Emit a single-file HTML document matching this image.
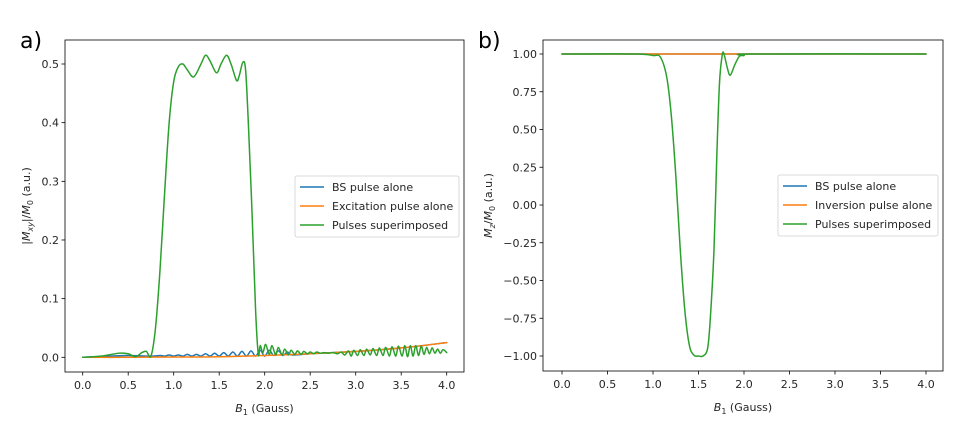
<!DOCTYPE html>
<html><head><meta charset="utf-8"><style>
html,body{margin:0;padding:0;background:#fff;}
svg{display:block;font-family:"DejaVu Sans","Liberation Sans",sans-serif;}
</style></head><body>
<svg id="c" width="960" height="432" viewBox="0 0 960 432"></svg>
<script>
// ---- Panel a data ----
const aGreenX=[0,0.2,0.4,0.5,0.58,0.65,0.7,0.75,0.8,0.85,0.9,0.95,1.0,1.05,1.1,1.15,1.22,1.3,1.35,1.4,1.47,1.52,1.58,1.63,1.69,1.72,1.76,1.79,1.82,1.86,1.9,1.93,
1.95,1.98,2.01,2.05,2.08,2.12,2.15,2.19,2.22,2.26,2.29,2.33,2.36,2.4,2.43,2.47,2.5,2.54,2.57,2.61,2.65,2.7,2.75,2.8,2.84,2.88,2.92,2.95,2.98,3.02,3.05,3.09,3.12,3.16,3.19,3.23,3.26,3.3,3.33,3.37,3.4,3.44,3.47,3.51,3.54,3.57,3.6,3.63,3.66,3.69,3.72,3.75,3.78,3.81,3.84,3.87,3.9,3.93,3.96,4.0];
const aGreenY=[0,0.002,0.007,0.006,0.001,0.008,0.01,0.002,0.05,0.15,0.28,0.4,0.47,0.495,0.5,0.49,0.478,0.5,0.515,0.505,0.485,0.5,0.515,0.5,0.472,0.48,0.503,0.49,0.4,0.25,0.08,0.005,
0.02,0.008,0.022,0.005,0.02,0.004,0.017,0.004,0.014,0.004,0.012,0.005,0.011,0.005,0.01,0.006,0.009,0.006,0.009,0.007,0.008,0.007,0.008,0.006,0.009,0.004,0.011,0.002,0.012,0.003,0.013,0.003,0.014,0.004,0.015,0.003,0.016,0.003,0.017,0.002,0.018,0.002,0.019,0.002,0.02,0.001,0.02,0.002,0.02,0.003,0.019,0.005,0.017,0.006,0.016,0.007,0.014,0.007,0.013,0.008];
const aBlueX=[0,0.3,0.5,0.75,0.85,0.9,0.95,1.0,1.05,1.1,1.15,1.2,1.25,1.3,1.35,1.4,1.45,1.5,1.55,1.6,1.65,1.7,1.75,1.8,1.85,1.9,1.95,2.0,2.05,2.1,2.15,2.2,2.25,2.3,2.5,3.0,3.5,4.0];
const aBlueY=[0,0.002,0.003,0.002,0.003,0.002,0.004,0.002,0.004,0.002,0.005,0.002,0.005,0.002,0.006,0.002,0.007,0.002,0.008,0.002,0.009,0.002,0.01,0.002,0.011,0.002,0.012,0.002,0.012,0.003,0.011,0.003,0.009,0.004,0.006,0.01,0.016,0.025];
const aOrangeX=[0,0.5,1.0,1.5,2.0,2.5,3.0,3.5,4.0];
const aOrangeY=[0,0,0.0005,0.001,0.003,0.006,0.01,0.016,0.025];
// ---- Panel b data ----
const bGreenX=[0,0.8,1.0,1.08,1.15,1.2,1.25,1.3,1.35,1.4,1.45,1.5,1.55,1.6,1.63,1.67,1.7,1.73,1.76,1.78,1.82,1.85,1.9,1.95,2.0,2.1,4.0];
const bGreenY=[1,1,0.99,0.98,0.85,0.6,0.2,-0.3,-0.7,-0.93,-0.995,-1.0,-1.0,-0.95,-0.75,-0.3,0.3,0.8,0.99,1.0,0.9,0.86,0.93,0.985,0.99,1.0,1.0];
const bBlueX=[0,1.0,1.5,2.0,4.0];
const bBlueY=[1,1,1,1,1];
const bOrangeX=[0,1.0,2.0,3.0,4.0];
const bOrangeY=[1,1,1,1,1];
const xTicks=[0,0.5,1.0,1.5,2.0,2.5,3.0,3.5,4.0];
const aYTicks=[0,0.1,0.2,0.3,0.4,0.5];
const bYTicks=[-1,-0.75,-0.5,-0.25,0,0.25,0.5,0.75,1.0];

const NS="http://www.w3.org/2000/svg";
const svg=document.getElementById('c');
function mk(t,a,p){const e=document.createElementNS(NS,t);for(const k in a)e.setAttribute(k,a[k]);(p||svg).appendChild(e);return e;}
function smooth(P){
  let d='M'+P[0][0].toFixed(2)+','+P[0][1].toFixed(2);
  for(let i=0;i<P.length-1;i++){
    const p0=P[Math.max(0,i-1)],p1=P[i],p2=P[i+1],p3=P[Math.min(P.length-1,i+2)];
    const t=1/6;
    const c1=[p1[0]+(p2[0]-p0[0])*t,p1[1]+(p2[1]-p0[1])*t];
    const c2=[p2[0]-(p3[0]-p1[0])*t,p2[1]-(p3[1]-p1[1])*t];
    d+=' C'+c1.map(v=>v.toFixed(2)).join(',')+' '+c2.map(v=>v.toFixed(2)).join(',')+' '+p2.map(v=>v.toFixed(2)).join(',');
  }
  return d;
}

function panel(o){
  const g=mk('g',{});
  
  
  const sx=v=>o.x0+(v-0)*(o.x4-o.x0)/4;
  const sy=v=>o.yA+(v-o.vA)*(o.yB-o.yA)/(o.vB-o.vA);
  o.series.forEach(s=>{
    const P=s.x.map((v,i)=>[sx(v),sy(s.y[i])]);
    const pl=mk('path',{d:smooth(P),fill:'none',stroke:s.c,'stroke-width':1.5,'stroke-linejoin':'round','stroke-linecap':'round'},g);
    
    
  });
  const fr=mk('rect',{x:o.L,y:o.T,width:o.R-o.L,height:o.B-o.T,fill:'none',stroke:'#000','stroke-width':0.8},g);
  
  
  xTicks.forEach(v=>{
    const x=sx(v);
    mk('line',{x1:x,x2:x,y1:o.B,y2:o.B+3.5,stroke:'#000','stroke-width':0.8},g);
    const t=mk('text',{x:x,y:o.B+17,'font-size':11,'text-anchor':'middle',fill:'#262626'},g);
    t.textContent=v.toFixed(1);
    
    
  });
  o.yt.forEach(v=>{
    const y=sy(v);
    mk('line',{x1:o.L-3.5,x2:o.L,y1:y,y2:y,stroke:'#000','stroke-width':0.8},g);
    const t=mk('text',{x:o.L-6,y:y+4,'font-size':11,'text-anchor':'end',fill:'#262626'},g);
    t.textContent=(v<0?'\u2212':'')+Math.abs(v).toFixed(o.dec);
    
    
  });
  const xl=mk('text',{x:(o.L+o.R)/2,y:o.B+40,'font-size':11,'text-anchor':'middle',fill:'#262626'},g);
  xl.innerHTML='<tspan font-style="italic">B</tspan><tspan font-size="8" dy="3">1</tspan><tspan dy="-3"> (Gauss)</tspan>';
  
  
  const yl=mk('text',{transform:`translate(${o.ylx},${(o.T+o.B)/2}) rotate(-90)`,'font-size':11,'text-anchor':'middle',fill:'#262626'},g);
  yl.innerHTML=o.ylab;
  
  
  const pl=mk('text',{x:o.plx,y:48,'font-size':22,fill:'#000'},g);
  pl.textContent=o.plabel;
  
  
  const lg=mk('g',{},g);
  
  
  mk('rect',{x:o.lx,y:o.ly,width:o.lw,height:61,rx:2,fill:'#fff','fill-opacity':0.85,stroke:'#d0d0d0','stroke-width':0.8},lg);
  o.series.slice().sort((a,b)=>a.ord-b.ord).forEach((s,i)=>{
    const y=o.ly+11+i*19;
    const e=mk('g',{},lg);
    
    
    mk('line',{x1:o.lx+5,x2:o.lx+29,y1:y,y2:y,stroke:s.c,'stroke-width':1.5},e);
    const t=mk('text',{x:o.lx+37,y:y+4,'font-size':11,fill:'#262626'},e);
    t.textContent=s.label;
  });
}
panel({name:'panel-a',L:65,R:464,T:40,B:372,x0:82.7,x4:446.7,vA:0,yA:357.3,vB:0.5,yB:64,yt:aYTicks,dec:1,
  ylx:30,ylab:'|<tspan font-style="italic">M</tspan><tspan font-size="8" dy="3" font-style="italic">xy</tspan><tspan dy="-3">|/</tspan><tspan font-style="italic">M</tspan><tspan font-size="8" dy="3">0</tspan><tspan dy="-3"> (a.u.)</tspan>',
  plx:20,plabel:'a)',lx:295,ly:176,lw:164,
  series:[{n:'series-bs-pulse',c:'#1f77b4',x:aBlueX,y:aBlueY,label:'BS pulse alone',ord:0},
          {n:'series-excitation-pulse',c:'#ff7f0e',x:aOrangeX,y:aOrangeY,label:'Excitation pulse alone',ord:1},
          {n:'series-superimposed',c:'#2ca02c',x:aGreenX,y:aGreenY,label:'Pulses superimposed',ord:2}]});
panel({name:'panel-b',L:543,R:943,T:40,B:371,x0:562,x4:926,vA:1,yA:54,vB:-1,yB:356,yt:bYTicks,dec:2,
  ylx:492,ylab:'<tspan font-style="italic">M</tspan><tspan font-size="8" dy="3" font-style="italic">z</tspan><tspan dy="-3">/</tspan><tspan font-style="italic">M</tspan><tspan font-size="8" dy="3">0</tspan><tspan dy="-3">  (a.u.)</tspan>',
  plx:478,plabel:'b)',lx:778,ly:175,lw:160,
  series:[{n:'series-bs-pulse',c:'#1f77b4',x:bBlueX,y:bBlueY,label:'BS pulse alone',ord:0},
          {n:'series-inversion-pulse',c:'#ff7f0e',x:bOrangeX,y:bOrangeY,label:'Inversion pulse alone',ord:1},
          {n:'series-superimposed',c:'#2ca02c',x:bGreenX,y:bGreenY,label:'Pulses superimposed',ord:2}]});
</script>
</body></html>
